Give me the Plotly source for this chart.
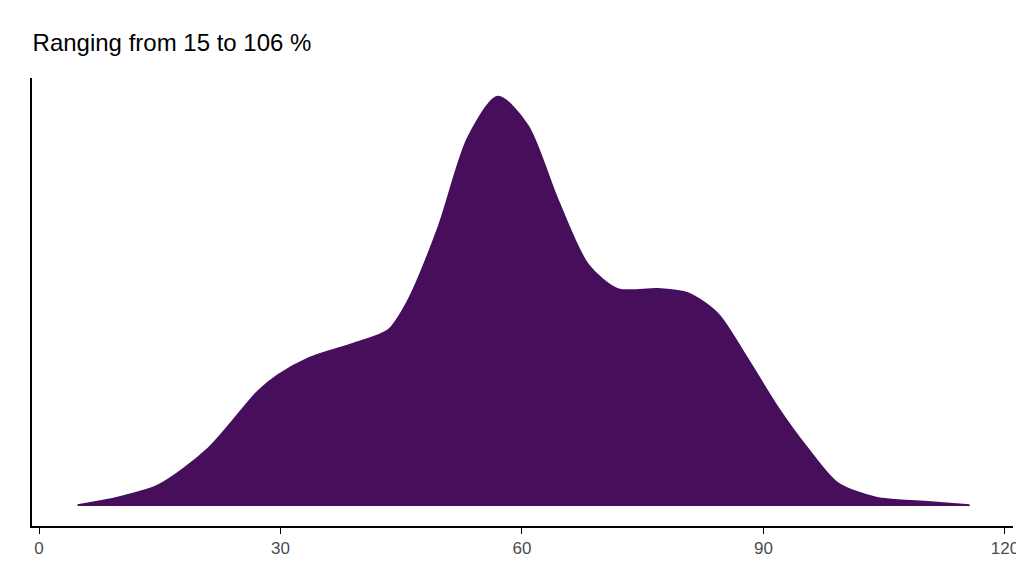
import plotly.graph_objects as go

x_vals = [4.8, 8.6, 14.8, 21, 27.2, 29.7, 33.4, 39.6, 43.4, 45.8, 49.6, 53.3, 57, 60.7, 64.4, 68.2, 71.9, 76.9, 80.6, 84.3, 88, 91.8, 95.5, 99.2, 104, 110, 115.6]
density = [0.002, 0.015, 0.05, 0.14, 0.28, 0.32, 0.36, 0.40, 0.43, 0.50, 0.68, 0.90, 1.0, 0.93, 0.75, 0.59, 0.53, 0.53, 0.52, 0.47, 0.36, 0.24, 0.14, 0.056, 0.02, 0.01, 0.002]
x_ticks = [0, 30, 60, 90, 120]

fig = go.Figure(go.Scatter(x=x_vals, y=density, mode="lines", fill="tozeroy",
                           line=dict(color="#440f5c", width=2, shape="spline", smoothing=0.8),
                           fillcolor="#470e5c", hoverinfo="skip"))
fig.update_layout(
    width=1024, height=576, plot_bgcolor="white", paper_bgcolor="white",
    margin=dict(l=24, r=19, t=70, b=58), showlegend=False,
    font=dict(family="Liberation Sans, Arial", color="#4d4d4d"),
    title=dict(text="Ranging from 15 to 106 %", x=0.024, xanchor="left", y=0.94, yanchor="middle",
               font=dict(size=24, color="black")),
    xaxis=dict(range=[-0.87, 121], tickvals=x_ticks, showgrid=False, zeroline=False,
               showline=True, linecolor="black", linewidth=2, ticks="outside", ticklen=6,
               tickcolor="black", tickfont=dict(size=17, color="#4d4d4d")),
    yaxis=dict(range=[-0.049, 1.046], showticklabels=False, showgrid=False, zeroline=False,
               showline=True, linecolor="black", linewidth=2, ticks=""),
)
fig.write_html("out.html")
